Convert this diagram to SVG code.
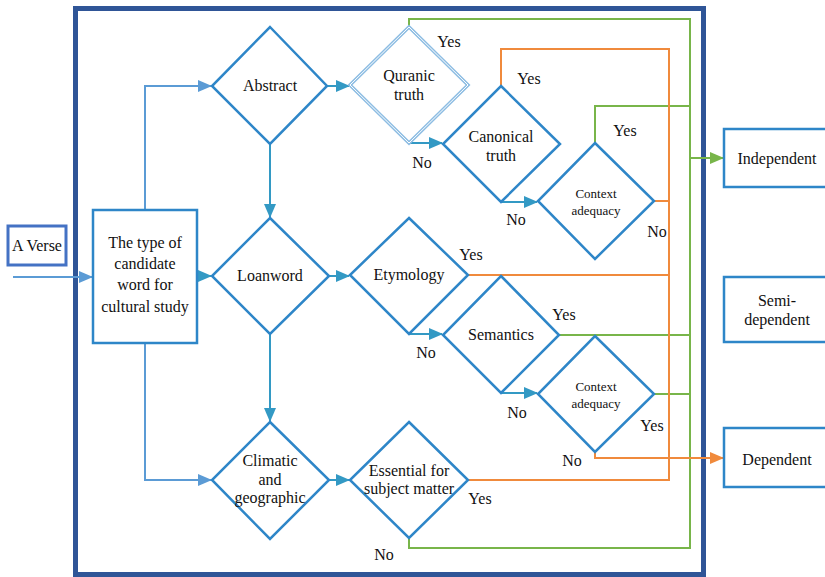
<svg xmlns="http://www.w3.org/2000/svg" width="825" height="577" viewBox="0 0 825 577">
<style>
text{font-family:"Liberation Serif","Times New Roman",serif;font-size:16px;fill:#111;text-anchor:middle}
.sm{font-size:13px}
.dia{fill:#fff;stroke:#2E86C8;stroke-width:2.5}
.box{fill:#fff;stroke:#2E86C8;stroke-width:2.5}
.c{fill:none;stroke-width:2}
.lb{stroke:#5B9BD5}
.tl{stroke:#3399C4}
.or{stroke:#F08A3C}
.gr{stroke:#78B54A}
</style>
<defs>
<marker id="aLb" markerUnits="userSpaceOnUse" markerWidth="14" markerHeight="12" refX="13" refY="6" orient="auto"><path d="M0,0 L14,6 L0,12 z" fill="#5B9BD5"/></marker>
<marker id="aTl" markerUnits="userSpaceOnUse" markerWidth="14" markerHeight="12" refX="13" refY="6" orient="auto"><path d="M0,0 L14,6 L0,12 z" fill="#3399C4"/></marker>
<marker id="aOr" markerUnits="userSpaceOnUse" markerWidth="14" markerHeight="12" refX="13" refY="6" orient="auto"><path d="M0,0 L14,6 L0,12 z" fill="#F08A3C"/></marker>
<marker id="aGr" markerUnits="userSpaceOnUse" markerWidth="14" markerHeight="12" refX="13" refY="6" orient="auto"><path d="M0,0 L14,6 L0,12 z" fill="#78B54A"/></marker>
</defs>
<rect x="0" y="0" width="825" height="577" fill="#fff"/>
<rect id="frame" x="75.5" y="8.5" width="628" height="566" fill="none" stroke="#2F5597" stroke-width="5"/>
<g id="connectors">
<path class="c lb" d="M13,277 H92" marker-end="url(#aLb)"/>
<path class="c lb" d="M145,210 V86 H211" marker-end="url(#aLb)"/>
<path class="c lb" d="M145,343 V480 H211" marker-end="url(#aLb)"/>
<path class="c tl" d="M197,276 H211" marker-end="url(#aTl)"/>
<path class="c tl" d="M327,86 H349" marker-end="url(#aTl)"/>
<path class="c tl" d="M270,144 V217" marker-end="url(#aTl)"/>
<path class="c tl" d="M270,334 V421" marker-end="url(#aTl)"/>
<path class="c tl" d="M329,276 H349" marker-end="url(#aTl)"/>
<path class="c tl" d="M329,480 H349" marker-end="url(#aTl)"/>
<path class="c tl" d="M409,143 H442" marker-end="url(#aTl)"/>
<path class="c tl" d="M501,202 H537" marker-end="url(#aTl)"/>
<path class="c tl" d="M409,334 H442" marker-end="url(#aTl)"/>
<path class="c tl" d="M501,393 H537" marker-end="url(#aTl)"/>
<path class="c gr" d="M409,27 V19 H690 V548 H409 V538"/>
<path class="c gr" d="M595,143 V106 H690"/>
<path class="c gr" d="M559,335 H690"/>
<path class="c gr" d="M654,394 H690"/>
<path class="c gr" d="M690,158 H723" marker-end="url(#aGr)"/>
<path class="c or" d="M501,86 V49 H669 V480 H468"/>
<path class="c or" d="M654,201 H669"/>
<path class="c or" d="M468,275 H669"/>
<path class="c or" d="M595,452 V458 H723" marker-end="url(#aOr)"/>
</g>
<g id="verse"><rect x="8" y="226" width="58" height="39" fill="#fff" stroke="#4472C4" stroke-width="3"/><text x="37" y="251">A Verse</text></g>
<g id="type"><rect class="box" x="93" y="210" width="104" height="133"/><text x="145" y="248">The type of</text><text x="145" y="269">candidate</text><text x="145" y="290">word for</text><text x="145" y="312">cultural study</text></g>
<g id="abstract"><path class="dia" d="M270,27 L327,86 L270,144 L212,86 z"/><text x="270" y="91">Abstract</text></g>
<g id="quranic"><path d="M409,27 L468,85 L409,143 L350,85 z" fill="#fff" stroke="#8DBDE3" stroke-width="3.5"/><path d="M409,27 L468,85 L409,143 L350,85 z" fill="none" stroke="#fff" stroke-width="1"/><text x="409" y="81">Quranic</text><text x="409" y="100">truth</text></g>
<g id="canonical"><path class="dia" d="M501,86 L560,144 L501,202 L443,144 z"/><text x="501" y="142">Canonical</text><text x="501" y="161">truth</text></g>
<g id="context1"><path class="dia" d="M595,143 L654,201 L595,259 L538,201 z"/><text class="sm" x="596" y="198">Context</text><text class="sm" x="596" y="215">adequacy</text></g>
<g id="loanword"><path class="dia" d="M270,218 L329,276 L270,334 L212,276 z"/><text x="270" y="281">Loanword</text></g>
<g id="etymology"><path class="dia" d="M409,218 L468,275 L409,334 L350,275 z"/><text x="409" y="280">Etymology</text></g>
<g id="semantics"><path class="dia" d="M501,276 L559,335 L501,393 L443,335 z"/><text x="501" y="340">Semantics</text></g>
<g id="context2"><path class="dia" d="M595,336 L654,394 L595,452 L538,394 z"/><text class="sm" x="596" y="391">Context</text><text class="sm" x="596" y="408">adequacy</text></g>
<g id="climatic"><path class="dia" d="M270,422 L329,480 L270,539 L212,480 z"/><text x="270" y="466">Climatic</text><text x="270" y="485">and</text><text x="270" y="503">geographic</text></g>
<g id="essential"><path class="dia" d="M409,422 L468,480 L409,538 L350,480 z"/><text x="409" y="476">Essential for</text><text x="409" y="494">subject matter</text></g>
<g id="independent"><rect class="box" x="724" y="129" width="112" height="58"/><text x="777" y="164">Independent</text></g>
<g id="semidependent"><rect class="box" x="724" y="277" width="112" height="65"/><text x="777" y="306">Semi-</text><text x="777" y="325">dependent</text></g>
<g id="dependent"><rect class="box" x="724" y="428" width="112" height="59"/><text x="777" y="465">Dependent</text></g>
<g id="labels">
<text x="449" y="47">Yes</text>
<text x="529" y="84">Yes</text>
<text x="625" y="136">Yes</text>
<text x="422" y="168">No</text>
<text x="516" y="225">No</text>
<text x="657" y="237">No</text>
<text x="471" y="260">Yes</text>
<text x="426" y="358">No</text>
<text x="564" y="320">Yes</text>
<text x="517" y="418">No</text>
<text x="652" y="431">Yes</text>
<text x="572" y="466">No</text>
<text x="480" y="504">Yes</text>
<text x="384" y="560">No</text>
</g>
</svg>
